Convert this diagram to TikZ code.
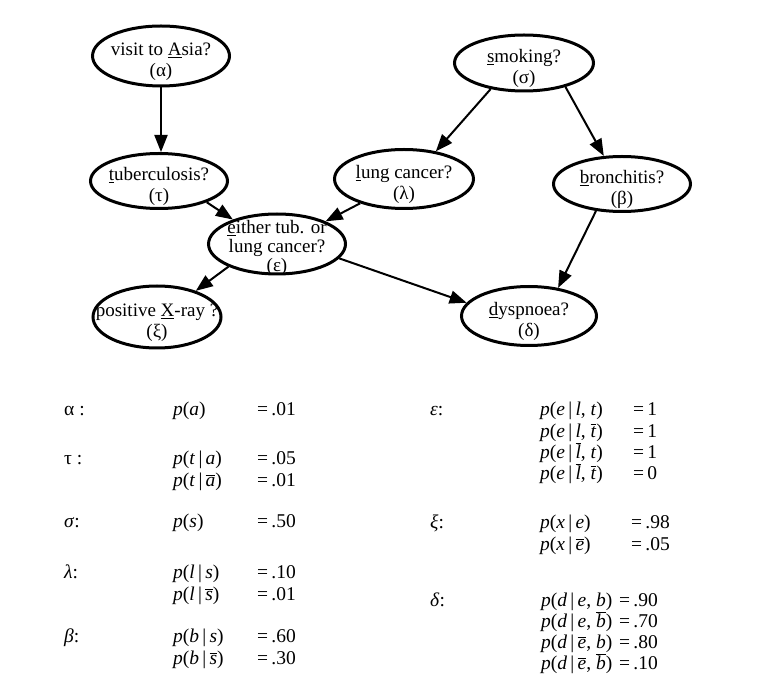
\documentclass[tikz,border=0pt]{standalone}
\usepackage{fontspec}
\setmainfont{Liberation Serif}
\usetikzlibrary{arrows.meta,shapes.geometric}
\newcommand\ntext[2][-10pt]{\smash{\makebox[0pt]{\raisebox{#1}{$\vcenter{\hbox{\begin{tabular}{@{}c@{}}#2\end{tabular}}}$}}}}
\newcommand\ovl[1]{$\overline{\mbox{#1}}$}
\newcommand\vv[1]{\textit{#1}}
\tikzset{
  var/.style={shape=ellipse, draw, line width=3pt, inner sep=0pt,
    font=\fontsize{19}{21}\selectfont},
  arr/.style={line width=2pt, -{Triangle[length=17pt,width=13pt]}},
  tb/.style={anchor=base west, inner sep=0pt, font=\fontsize{19.5}{21}\selectfont},
}
\begin{document}
\begin{tikzpicture}[x=1pt,y=-1pt]
\useasboundingbox (0,0) rectangle (763,700);
% nodes
\node[var, minimum width=137pt, minimum height=60pt] (asia) at (161,56) {\ntext{visit to \underline{A}sia?\\(α)}};
\node[var, minimum width=139pt, minimum height=56pt] (smk) at (524,63) {\ntext{\underline{s}moking?\\(σ)}};
\node[var, minimum width=137pt, minimum height=55pt] (tub) at (159,181) {\ntext{\underline{t}uberculosis?\\(τ)}};
\node[var, minimum width=139pt, minimum height=59pt] (lung) at (404,179) {\ntext{\underline{l}ung cancer?\\(λ)}};
\node[var, minimum width=137pt, minimum height=55pt] (bron) at (622,184) {\ntext{\underline{b}ronchitis?\\(β)}};
\node[var, minimum width=137pt, minimum height=60pt] (eith) at (277,244) {\fontsize{19}{17}\selectfont\ntext[-9pt]{\underline{e}ither tub. or\\lung cancer?\\[1pt](ε)}};
\node[var, minimum width=128pt, minimum height=62pt] (xray) at (157,317) {\ntext{positive \underline{X}-ray ?\\(ξ)}};
\node[var, minimum width=135pt, minimum height=59pt] (dysp) at (529,316) {\ntext{\underline{d}yspnoea?\\(δ)}};
% edges
\draw[arr] (asia.south) -- (asia.south |- tub.north);
\draw[arr] (smk.218) -- (lung.41);
\draw[arr] (smk.330) -- (bron.123);
\draw[arr] (tub.336) -- (eith.151);
\draw[arr] (lung.209) -- (eith.25);
\draw[arr] (eith.205) -- (xray.34);
\draw[arr] (eith.347) -- (dysp.168);
\draw[arr] (bron.226) -- (dysp.44);
% left table
\node[tb] (la) at (64,415) {α :};
\node[tb] (pa1) at (173,415) {\vv{p}(\vv{a})};
\node[tb] (va1) at (257,415) {=\,.01};
\node[tb] (lt) at (64,464) {τ :};
\node[tb] (pt1) at (173,464) {\vv{p}(\vv{t}\,|\,\vv{a})};
\node[tb] (vt1) at (257,464) {=\,.05};
\node[tb] (pt2) at (173,486) {\vv{p}(\vv{t}\,|\,\ovl{\vv{a}})};
\node[tb] (vt2) at (257,486) {=\,.01};
\node[tb] (ls) at (64,527) {\vv{σ}:};
\node[tb] (ps1) at (173,527) {\vv{p}(\vv{s})};
\node[tb] (vs1) at (257,527) {=\,.50};
\node[tb] (ll) at (64,578) {\vv{λ}:};
\node[tb] (pl1) at (173,578) {\vv{p}(\vv{l}\,|\,\vv{s})};
\node[tb] (vl1) at (257,578) {=\,.10};
\node[tb] (pl2) at (173,600) {\vv{p}(\vv{l}\,|\,\ovl{\vv{s}})};
\node[tb] (vl2) at (257,600) {=\,.01};
\node[tb] (lb) at (64,642) {\vv{β}:};
\node[tb] (pb1) at (173,642) {\vv{p}(\vv{b}\,|\,\vv{s})};
\node[tb] (vb1) at (257,642) {=\,.60};
\node[tb] (pb2) at (173,664) {\vv{p}(\vv{b}\,|\,\ovl{\vv{s}})};
\node[tb] (vb2) at (257,664) {=\,.30};
% right table
\node[tb] (le) at (430,416) {\vv{ε}:};
\node[tb] (pe1) at (540,416) {\vv{p}(\vv{e}\,|\,\vv{l}, \vv{t})};
\node[tb] (ve1) at (633,416) {=\,1};
\node[tb] (pe2) at (540,437) {\vv{p}(\vv{e}\,|\,\vv{l}, \ovl{\vv{t}})};
\node[tb] (ve2) at (633,437) {=\,1};
\node[tb] (pe3) at (540,458) {\vv{p}(\vv{e}\,|\,\ovl{\vv{l}}, \vv{t})};
\node[tb] (ve3) at (633,458) {=\,1};
\node[tb] (pe4) at (540,479) {\vv{p}(\vv{e}\,|\,\ovl{\vv{l}}, \ovl{\vv{t}})};
\node[tb] (ve4) at (633,479) {=\,0};
\node[tb] (lx) at (430,528) {\vv{ξ}:};
\node[tb] (px1) at (540,528) {\vv{p}(\vv{x}\,|\,\vv{e})};
\node[tb] (vx1) at (631,528) {=\,.98};
\node[tb] (px2) at (540,550) {\vv{p}(\vv{x}\,|\,\ovl{\vv{e}})};
\node[tb] (vx2) at (631,550) {=\,.05};
\node[tb] (ld) at (430,606) {\vv{δ}:};
\node[tb] (pd1) at (541,606) {\vv{p}(\vv{d}\,|\,\vv{e}, \vv{b})};
\node[tb] (vd1) at (619,606) {=\,.90};
\node[tb] (pd2) at (541,627) {\vv{p}(\vv{d}\,|\,\vv{e}, \ovl{\vv{b}})};
\node[tb] (vd2) at (619,627) {=\,.70};
\node[tb] (pd3) at (541,648) {\vv{p}(\vv{d}\,|\,\ovl{\vv{e}}, \vv{b})};
\node[tb] (vd3) at (619,648) {=\,.80};
\node[tb] (pd4) at (541,669) {\vv{p}(\vv{d}\,|\,\ovl{\vv{e}}, \ovl{\vv{b}})};
\node[tb] (vd4) at (619,669) {=\,.10};
\end{tikzpicture}
\end{document}
